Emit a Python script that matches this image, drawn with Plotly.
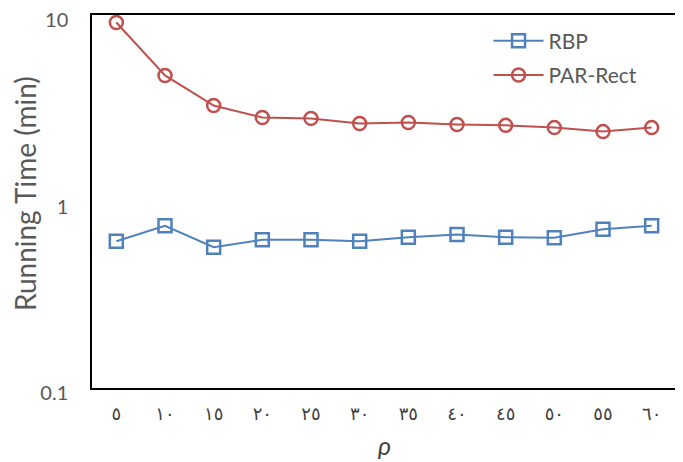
import plotly.graph_objects as go

categories = ["٥", "١٠", "١٥", "٢٠", "٢٥", "٣٠", "٣٥", "٤٠", "٤٥", "٥٠", "٥٥", "٦٠"]
rbp = [0.612, 0.741, 0.569, 0.623, 0.623, 0.612, 0.644, 0.665, 0.644, 0.639, 0.710, 0.741]
par_rect = [9.12, 4.74, 3.27, 2.82, 2.79, 2.62, 2.65, 2.59, 2.56, 2.49, 2.37, 2.49]
y_ticks = [0.1, 1, 10]
y_tick_labels = ["0.1", "1", "10"]
x_title = "<i>ρ</i>"
y_title = "Running Time (min)"

fig = go.Figure()
fig.add_trace(go.Scatter(
    x=categories, y=rbp, name="RBP", mode="lines+markers",
    line=dict(color="#4f81bd", width=2),
    marker=dict(symbol="square-open", size=13, color="#4f81bd", line=dict(width=2.5)),
    legendgroup="a",
))
fig.add_trace(go.Scatter(
    x=categories, y=par_rect, name="PAR-Rect", mode="lines+markers",
    line=dict(color="#c0504d", width=2),
    marker=dict(symbol="circle-open", size=13, color="#c0504d", line=dict(width=2.5)),
    legendgroup="b",
))

# page body has an 8px default margin; figure sized to fill the rest
fig.update_layout(
    width=675, height=454,
    margin=dict(l=84, r=7, t=7, b=74, autoexpand=False),
    paper_bgcolor="white", plot_bgcolor="white",
    font=dict(family="Lato, 'DejaVu Sans', sans-serif", color="#595959", size=20),
    showlegend=True,
    legend=dict(x=0.679, y=0.985, xanchor="left", yanchor="top",
                bgcolor="rgba(0,0,0,0)", font=dict(size=21, color="#595959"),
                tracegroupgap=4, traceorder="grouped", itemwidth=50),
    xaxis=dict(
        type="category", range=[-0.5, 11.5], automargin=False,
        showline=True, mirror=True, linecolor="black", linewidth=1.5,
        showgrid=False, ticks="", ticklen=0, ticklabelstandoff=9,
        ticklabeloverflow="allow",
        tickfont=dict(family="'DejaVu Sans', sans-serif", size=18, color="#404040"),
    ),
    yaxis=dict(
        type="log", range=[-1, 1], automargin=False,
        tickvals=y_ticks, ticktext=y_tick_labels,
        showline=True, mirror=True, linecolor="black", linewidth=1.5,
        showgrid=False, ticks="", zeroline=False, ticklabelstandoff=18,
        ticklabelshift=5,
        ticklabeloverflow="allow",
        tickfont=dict(size=20, color="#595959"),
    ),
    annotations=[
        dict(text=y_title, xref="paper", yref="paper", x=-0.1147, y=0.52,
             xanchor="center", yanchor="middle", textangle=-90, showarrow=False,
             font=dict(size=28, color="#595959")),
        dict(text=x_title, xref="paper", yref="paper", x=0.5, y=-0.152,
             xanchor="center", yanchor="middle", showarrow=False,
             font=dict(size=25, color="#404040")),
    ],
)

fig.write_html("out.html")
